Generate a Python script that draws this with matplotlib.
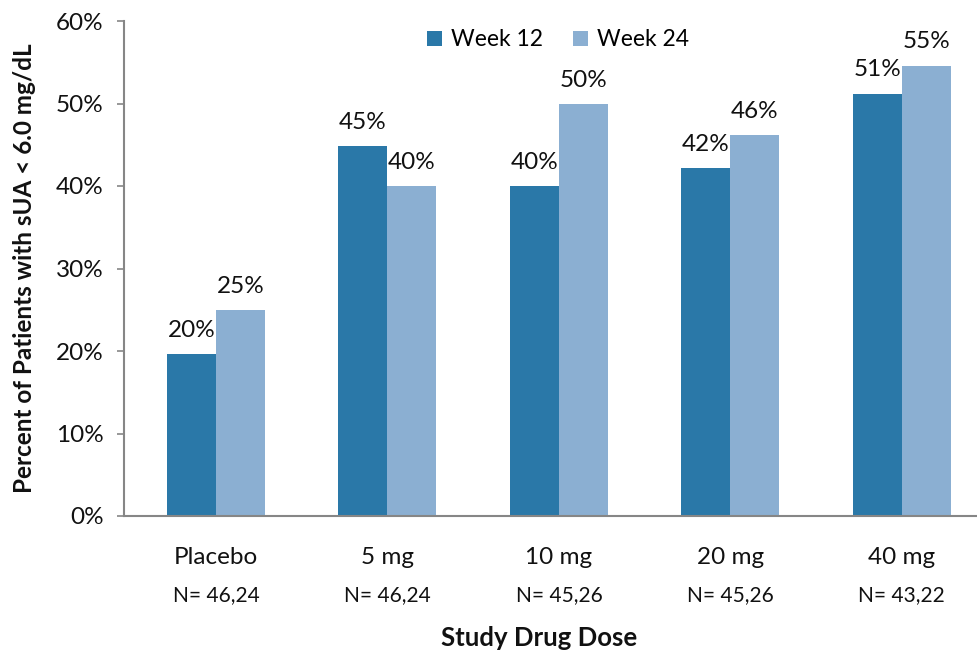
import matplotlib
matplotlib.use("Agg")
import matplotlib.pyplot as plt
import numpy as np

plt.rcParams["font.family"] = ["Lato", "DejaVu Sans"]

# Response rates by dose group
doses = ["Placebo", "5 mg", "10 mg", "20 mg", "40 mg"]
n_labels = ["N= 46,24", "N= 46,24", "N= 45,26", "N= 45,26", "N= 43,22"]
week12 = [19.6, 44.8, 40.0, 42.2, 51.2]
week24 = [25.0, 40.0, 49.9, 46.2, 54.6]
yticks = [0, 10, 20, 30, 40, 50, 60]

c12 = "#2A78A8"
c24 = "#8BAFD2"
axis_grey = "#868686"
txt = "#111111"

fig = plt.figure(figsize=(9.78, 6.51), dpi=100)
ax = fig.add_axes([124 / 978, 1 - 516 / 651, (978 - 124) / 978, (516 - 21) / 651])

x = np.arange(len(doses))
w = 0.286
b1 = ax.bar(x - w / 2, week12, w, color=c12, label="Week 12")
b2 = ax.bar(x + w / 2, week24, w, color=c24, label="Week 24")

for bars, vals in ((b1, week12), (b2, week24)):
    for r, v in zip(bars, vals):
        ax.annotate(f"{v:.0f}%", (r.get_x() + r.get_width() / 2, v),
                    xytext=(0, 9.5), textcoords="offset points",
                    ha="center", va="bottom", fontsize=17.5, color=txt)

ax.set_ylim(0, 60)
ax.set_xlim(-0.536, 4.444)
ax.set_yticks(yticks)
ax.set_yticklabels([f"{t}%" for t in yticks], fontsize=17.5, color=txt)
ax.tick_params(axis="y", direction="out", length=5, width=1.2, color=axis_grey, pad=9.5)
ax.set_xticks([])

for s in ("top", "right"):
    ax.spines[s].set_visible(False)
for s in ("left", "bottom"):
    ax.spines[s].set_color(axis_grey)
    ax.spines[s].set_linewidth(1.5)

# Category labels with sample sizes beneath
for xi, d, n in zip(x, doses, n_labels):
    ax.text(xi, -5.0, d, transform=ax.transData, ha="center", va="center",
            fontsize=17.5, color=txt, clip_on=False)
    ax.text(xi, -9.6, n, transform=ax.transData, ha="center", va="center",
            fontsize=15, color=txt, clip_on=False)

fig.text(539 / 978, 1 - 638 / 651, "Study Drug Dose", ha="center", va="center",
         fontsize=18.5, fontweight="bold", color=txt)
fig.text(25 / 978, 1 - 268 / 651, "Percent of Patients with sUA < 6.0 mg/dL",
         rotation=90, ha="center", va="center", fontsize=17.5,
         fontweight="bold", color=txt)

ax.legend(loc="center", bbox_to_anchor=((558 - 124) / 854, (516 - 40) / 495),
          ncol=2, frameon=False, fontsize=16.5, handlelength=0.65, handleheight=0.65,
          columnspacing=1.3, handletextpad=0.4)

fig.savefig("out.png", dpi=100)
